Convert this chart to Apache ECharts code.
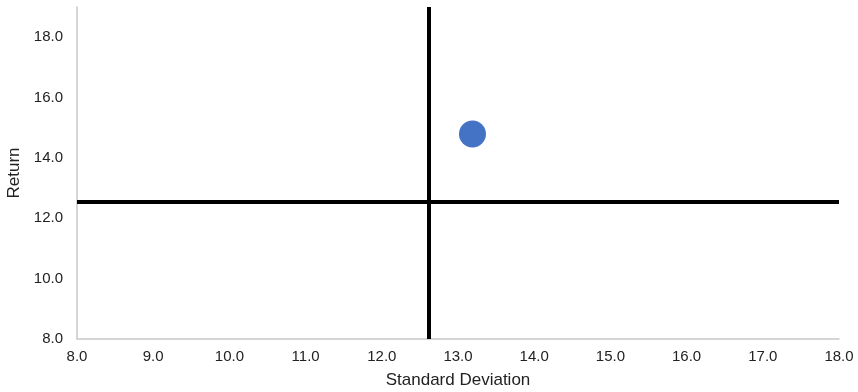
<!DOCTYPE html>
<html>
<head>
<meta charset="utf-8">
<script src="https://cdn.jsdelivr.net/npm/echarts@6/dist/echarts.min.js"></script>
<style>
  html, body { margin: 0; padding: 0; background: #fff; }
  #chart { width: 858px; height: 392px; }
</style>
</head>
<body>
<div id="chart"></div>
<script>
// Portfolio risk/return point and the reference cross-hair
const points = [[13.19, 14.79]];      // [standard deviation, return]
const refStdDev = 12.61;              // vertical reference line
const refReturn = 12.54;              // horizontal reference line
const xTicks = [8, 18, 1];            // min, max, interval
const yTicks = [8, 19, 2];            // min, max, interval

const chart = echarts.init(document.getElementById('chart'));
const font = 'Liberation Sans, Arial, sans-serif';
const tickStyle = { color: '#222', fontFamily: font, fontSize: 15 };
const titleStyle = { color: '#222', fontFamily: font, fontSize: 17 };

chart.setOption({
  animation: false,
  grid: { left: 77, right: 19, top: 7, bottom: 53, containLabel: false, outerBoundsMode: 'none' },
  xAxis: {
    type: 'value',
    min: xTicks[0], max: xTicks[1], interval: xTicks[2],
    name: 'Standard Deviation', nameLocation: 'middle', nameGap: 33,
    nameTextStyle: titleStyle,
    axisLine: { show: true, lineStyle: { color: '#c8c8c8', width: 1.5 } },
    axisTick: { show: false },
    splitLine: { show: false },
    axisLabel: Object.assign({ margin: 10, formatter: v => v.toFixed(1) }, tickStyle)
  },
  yAxis: {
    type: 'value',
    min: yTicks[0], max: yTicks[1], interval: yTicks[2],
    name: 'Return', nameLocation: 'middle', nameGap: 54, nameRotate: 90,
    nameTextStyle: titleStyle,
    axisLine: { show: true, lineStyle: { color: '#c8c8c8', width: 1.5 } },
    axisTick: { show: false },
    splitLine: { show: false },
    axisLabel: Object.assign({ margin: 14, showMaxLabel: false, formatter: v => v.toFixed(1) }, tickStyle)
  },
  series: [{
    type: 'scatter',
    data: points,
    symbolSize: 27,
    itemStyle: { color: '#4472c4', opacity: 1 },
    markLine: {
      silent: true,
      symbol: 'none',
      label: { show: false },
      lineStyle: { color: '#000', width: 4, type: 'solid' },
      data: [{ xAxis: refStdDev }, { yAxis: refReturn }]
    }
  }]
});
</script>
</body>
</html>
